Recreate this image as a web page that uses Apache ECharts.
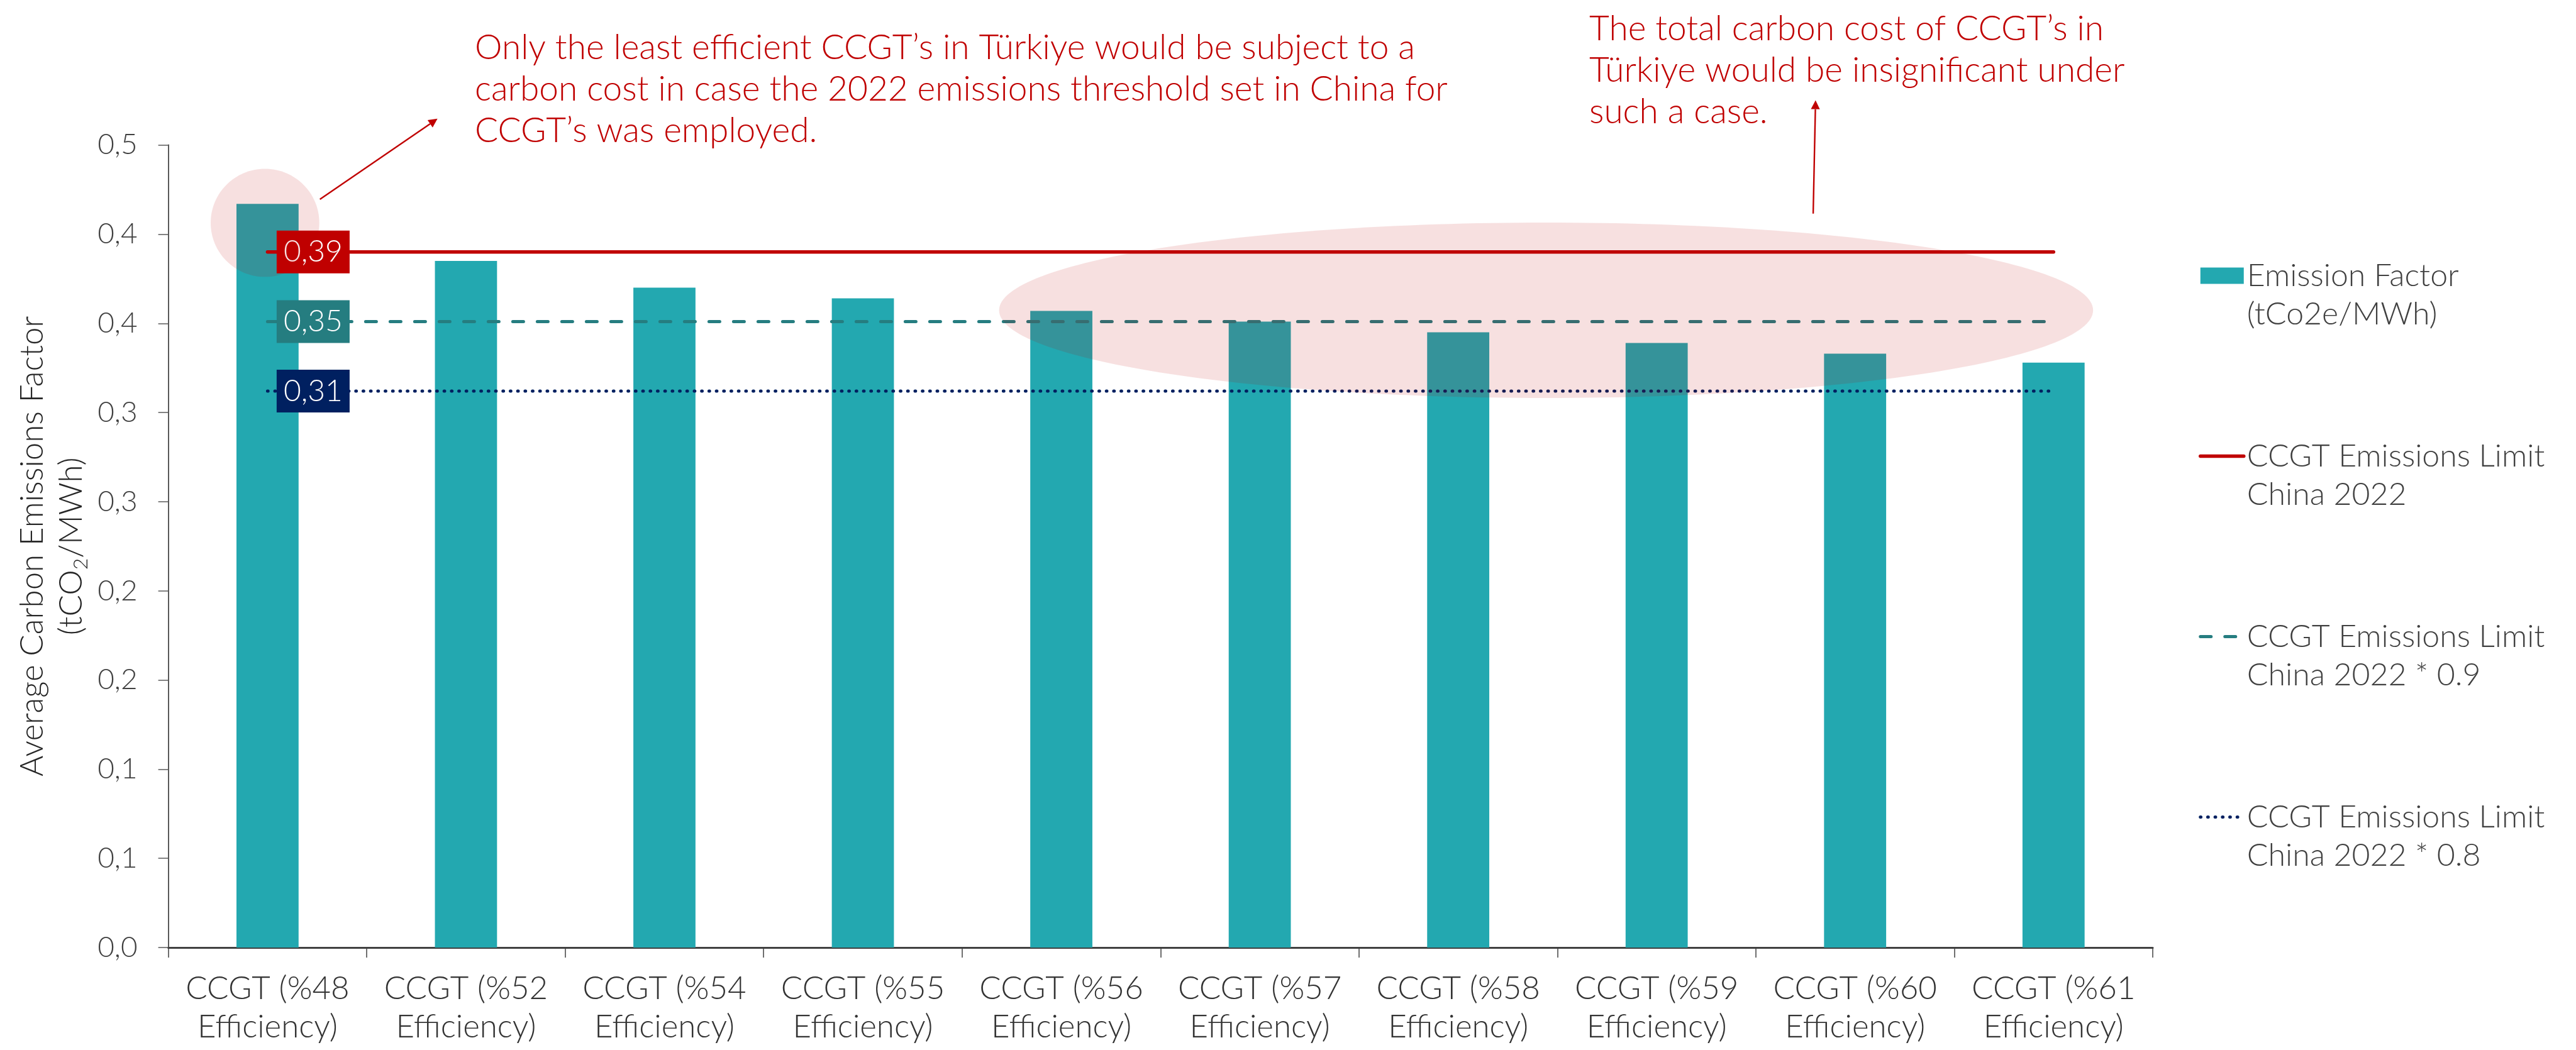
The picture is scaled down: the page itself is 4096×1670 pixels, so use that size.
<!DOCTYPE html>
<html>
<head>
<meta charset="utf-8">
<script src="https://cdn.jsdelivr.net/npm/echarts@6/dist/echarts.min.js"></script>
<style>html,body{margin:0;padding:0;background:#fff}#c{width:4096px;height:1670px}</style>
</head>
<body>
<div id="c"></div>
<script>
// ---- data ----
const categories = ['CCGT (%48\nEfficiency)', 'CCGT (%52\nEfficiency)', 'CCGT (%54\nEfficiency)', 'CCGT (%55\nEfficiency)', 'CCGT (%56\nEfficiency)',
  'CCGT (%57\nEfficiency)', 'CCGT (%58\nEfficiency)', 'CCGT (%59\nEfficiency)', 'CCGT (%60\nEfficiency)', 'CCGT (%61\nEfficiency)'];
const emissionFactor = [0.417, 0.385, 0.370, 0.364, 0.357, 0.351, 0.345, 0.339, 0.333, 0.328];
const limitChina2022 = [0.39, 0.39, 0.39, 0.39, 0.39, 0.39, 0.39, 0.39, 0.39, 0.39];
const limitChina2022x09 = [0.351, 0.351, 0.351, 0.351, 0.351, 0.351, 0.351, 0.351, 0.351, 0.351];
const limitChina2022x08 = [0.312, 0.312, 0.312, 0.312, 0.312, 0.312, 0.312, 0.312, 0.312, 0.312];
const limitLabels = ['0,39', '0,35', '0,31'];
const yTickLabels = ['0,0', '0,1', '0,1', '0,2', '0,2', '0,3', '0,3', '0,4', '0,4', '0,5'];
const seriesNames = ['Emission Factor\n(tCo2e/MWh)', 'CCGT Emissions Limit\nChina 2022',
  'CCGT Emissions Limit\nChina 2022 * 0.9', 'CCGT Emissions Limit\nChina 2022 * 0.8'];
const yAxisTitle = 'Average Carbon Emissions Factor\n(tCO{sub|2}/MWh)';
const annotation1 = 'Only the least efficient CCGT\u2019s in T\u00fcrkiye would be subject to a\ncarbon cost in case the 2022 emissions threshold set in China for\nCCGT\u2019s was employed.';
const annotation2 = 'The total carbon cost of CCGT\u2019s in\nT\u00fcrkiye would be insignificant under\nsuch a case.';

// ---- style ----
const S = 0.949;
const FONT = 'Lato, "Open Sans", sans-serif';
const RED = '#C00000', TEAL = '#23A8B0', DTEAL = '#257D80', NAVY = '#002060';
const PINK = 'rgba(192,0,0,0.12)';

function limitSeries(name, values, labelText, color, width, dash, cap) {
  return {
    name: name, type: 'line', symbol: 'none', showSymbol: false, silent: true, z: 3,
    data: values,
    lineStyle: { color: color, width: width, type: dash, cap: cap },
    itemStyle: { color: color },
    markPoint: {
      silent: true, symbol: 'circle', symbolSize: 1, itemStyle: { color: color },
      label: { show: true, position: 'right', distance: 14, formatter: labelText, color: '#fff', backgroundColor: color,
        padding: [11, 11, 11, 11], fontSize: 48, lineHeight: 46, fontFamily: FONT, fontWeight: 300 },
      data: [{ coord: [0, values[0]] }]
    }
  };
}

function arrow(x1, y1, x2, y2) {
  const dx = x2 - x1, dy = y2 - y1, len = Math.sqrt(dx * dx + dy * dy);
  const ux = dx / len, uy = dy / len, L = 15 * S, W = 7.5 * S;
  const bx = x2 - ux * L, by = y2 - uy * L;
  return [
    { type: 'line', z: 20, silent: true, shape: { x1: x1, y1: y1, x2: bx, y2: by }, style: { stroke: RED, lineWidth: 2.4 } },
    { type: 'polygon', z: 20, silent: true, shape: { points: [[x2, y2], [bx - uy * W, by + ux * W], [bx + uy * W, by - ux * W]] }, style: { fill: RED } }
  ];
}

const chart = echarts.init(document.getElementById('c'), null, { renderer: 'canvas' });
chart.setOption({
  animation: false,
  backgroundColor: '#fff',
  grid: { left: 282 * S, right: 4096 - 3607 * S, top: 243 * S, bottom: 1670 - 1588 * S, containLabel: false },
  legend: {
    orient: 'vertical', left: 3496, top: 347, padding: 0,
    itemWidth: 69, itemHeight: 26, itemGap: 104,
    data: [
      { name: seriesNames[0], icon: 'rect' },
      { name: seriesNames[1], itemStyle: { opacity: 0 }, lineStyle: { width: 5.5, cap: 'round' } },
      { name: seriesNames[2], itemStyle: { opacity: 0 }, lineStyle: { width: 5, cap: 'round' } },
      { name: seriesNames[3], itemStyle: { opacity: 0 }, lineStyle: { width: 5, cap: 'round' } }
    ],
    formatter: n => '\n' + n,
    textStyle: { fontFamily: FONT, fontWeight: 300, fontSize: 50, lineHeight: 61, color: '#404040' },
    selectedMode: false
  },
  xAxis: {
    type: 'category', data: categories,
    axisLine: { lineStyle: { color: '#404040', width: 3 } },
    axisTick: { show: true, length: 16, lineStyle: { color: '#404040', width: 1.5 } },
    axisLabel: { interval: 0, margin: 35, fontFamily: FONT, fontWeight: 300, fontSize: 51, lineHeight: 61, color: '#333' }
  },
  yAxis: {
    type: 'value', min: 0, max: 0.45, interval: 0.05,
    name: yAxisTitle, nameLocation: 'middle', nameRotate: 90, nameGap: 120,
    nameTextStyle: { fontFamily: FONT, fontWeight: 300, fontSize: 51, lineHeight: 62, color: '#262626',
      rich: { sub: { fontFamily: FONT, fontWeight: 300, fontSize: 32, lineHeight: 30, verticalAlign: 'bottom', color: '#262626' } } },
    axisLine: { show: true, lineStyle: { color: '#595959', width: 2 } },
    axisTick: { show: true, length: 16, lineStyle: { color: '#595959', width: 1.5 } },
    splitLine: { show: false },
    axisLabel: { margin: 49, fontFamily: FONT, fontWeight: 300, fontSize: 46, color: '#404040',
      formatter: v => yTickLabels[Math.round(v / 0.05)] }
  },
  series: [
    { name: seriesNames[0], type: 'bar', data: emissionFactor, barWidth: '31.3%', silent: true, z: 2,
      itemStyle: { color: TEAL } },
    limitSeries(seriesNames[1], limitChina2022, limitLabels[0], RED, 5.5, 'solid', 'round'),
    limitSeries(seriesNames[2], limitChina2022x09, limitLabels[1], DTEAL, 5, [17, 22], 'round'),
    limitSeries(seriesNames[3], limitChina2022x08, limitLabels[2], NAVY, 5, [0.8, 10.9], 'round')
  ],
  graphic: [
    { type: 'ellipse', z: 10, silent: true, shape: { cx: 444 * S, cy: 373.5 * S, rx: 91 * S, ry: 90.5 * S }, style: { fill: PINK } },
    { type: 'ellipse', z: 10, silent: true, shape: { cx: 2590.5 * S, cy: 520 * S, rx: 916.5 * S, ry: 147 * S }, style: { fill: PINK } },
    ...arrow(536 * S, 334 * S, 733 * S, 199 * S),
    ...arrow(3038 * S, 358 * S, 3042 * S, 168 * S),
    { type: 'text', z: 20, silent: true, x: 755, y: 43,
      style: { text: annotation1, fontFamily: FONT, fontWeight: 300, fontSize: 55, lineHeight: 66, fill: RED, align: 'left', verticalAlign: 'top' } },
    { type: 'text', z: 20, silent: true, x: 2527, y: 13,
      style: { text: annotation2, fontFamily: FONT, fontWeight: 300, fontSize: 55, lineHeight: 66, fill: RED, align: 'left', verticalAlign: 'top' } }
  ]
});
</script>
</body>
</html>
